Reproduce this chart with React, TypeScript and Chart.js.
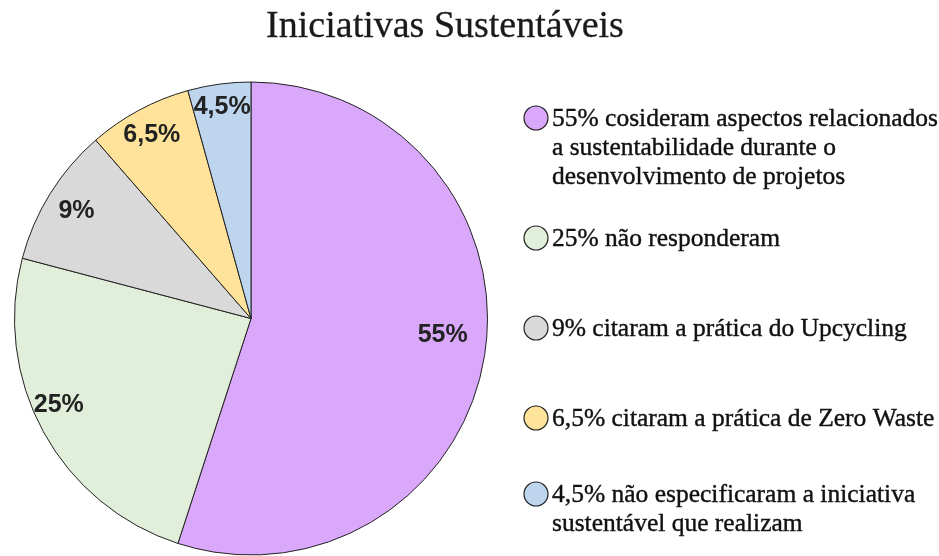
import React, { useEffect, useRef } from "react";
import { Chart, registerables } from "chart.js";

Chart.register(...registerables);

const title = "Iniciativas Sustentáveis";
const sliceLabels = ["55%", "25%", "9%", "6,5%", "4,5%"];
// slice sizes as drawn in the picture
const values = [55, 24.1, 9.5, 7.1, 4.3];
const legendLines = [
  ["55% cosideram aspectos relacionados", "a sustentabilidade durante o", "desenvolvimento de projetos"],
  ["25% não responderam"],
  ["9% citaram a prática do Upcycling"],
  ["6,5% citaram a prática de Zero Waste"],
  ["4,5% não especificaram a iniciativa", "sustentável que realizam"],
];
const colors = ["#DAA8FB", "#E1EED9", "#D9D9D9", "#FFE39B", "#BDD6EE"];

const labelRadius = [0.813, 0.89, 0.869, 0.886, 0.906];
const labelAngleShift = [-4.4, 4.6, 0, 0, 0];
const legendY = [118, 238, 328, 418, 494];

const overlay = {
  id: "overlay",
  afterDraw(chart: any) {
    const ctx = chart.ctx;
    ctx.save();
    ctx.fillStyle = "#1a1a1a";
    ctx.strokeStyle = "#1a1a1a";
    ctx.lineWidth = 0.3;
    ctx.font = "38px 'Liberation Serif'";
    ctx.textAlign = "center";
    ctx.textBaseline = "middle";
    ctx.fillText(title, 445, 27);
    ctx.strokeText(title, 445, 27);

    const meta = chart.getDatasetMeta(0);
    ctx.font = "bold 25px 'Liberation Sans'";
    meta.data.forEach((arc: any, i: number) => {
      const p = arc.getProps(["x", "y", "startAngle", "endAngle", "outerRadius"], true);
      const mid = (p.startAngle + p.endAngle) / 2 + (labelAngleShift[i] * Math.PI) / 180;
      const r = p.outerRadius * labelRadius[i];
      ctx.fillStyle = "#222";
      ctx.fillText(sliceLabels[i], p.x + Math.cos(mid) * r, p.y + Math.sin(mid) * r + 1);
    });

    ctx.textAlign = "left";
    ctx.font = "25.5px 'Liberation Serif'";
    legendLines.forEach((lines, i) => {
      const cy = legendY[i];
      ctx.beginPath();
      ctx.arc(536, cy, 12, 0, Math.PI * 2);
      ctx.fillStyle = colors[i];
      ctx.fill();
      ctx.lineWidth = 1.2;
      ctx.strokeStyle = "#222";
      ctx.stroke();
      ctx.fillStyle = "#111";
      ctx.strokeStyle = "#111";
      ctx.lineWidth = 0.4;
      lines.forEach((ln, j) => {
        ctx.fillText(ln, 552, cy + 1 + j * 29);
        ctx.strokeText(ln, 552, cy + 1 + j * 29);
      });
    });
    ctx.restore();
  },
};

export default function App() {
  const ref = useRef<HTMLCanvasElement>(null);
  useEffect(() => {
    const chart = new Chart(ref.current!, {
      type: "pie",
      data: {
        labels: sliceLabels,
        datasets: [
          {
            data: values,
            backgroundColor: colors,
            borderColor: "#222",
            borderWidth: 1,
          },
        ],
      },
      options: {
        animation: false,
        responsive: false,
        layout: { padding: { left: 14, top: 81, right: 451, bottom: 0 } },
        plugins: {
          legend: { display: false },
          tooltip: { enabled: false },
          title: { display: false },
        },
      },
      plugins: [overlay],
    });
    return () => chart.destroy();
  }, []);
  return (
    <div style={{ position: "fixed", left: 0, top: 0, width: 939, height: 556, background: "#fff" }}>
      <canvas ref={ref} width={939} height={556} />
    </div>
  );
}
